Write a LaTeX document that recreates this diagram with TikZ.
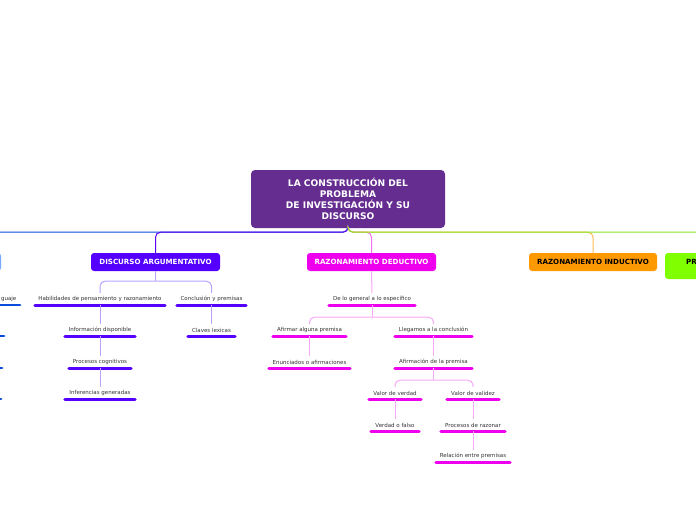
\documentclass[tikz,border=0pt]{standalone}
\usepackage{fontspec}
\setmainfont{DejaVu Sans}
\usetikzlibrary{calc}
\definecolor{rootc}{HTML}{662D91}
\definecolor{discc}{HTML}{5500FF}
\definecolor{discl}{HTML}{B9A3FF}
\definecolor{discp}{HTML}{5A00F0}
\definecolor{dedc}{HTML}{EE00EE}
\definecolor{dedl}{HTML}{F8A8F8}
\definecolor{dedt}{HTML}{F070F0}
\definecolor{indc}{HTML}{FF9900}
\definecolor{indl}{HTML}{FFBB55}
\definecolor{grnc}{HTML}{80FF00}
\definecolor{grnl}{HTML}{88E622}
\definecolor{bluc}{HTML}{0A4BDC}
\definecolor{blul}{HTML}{77AAFF}
\definecolor{txt}{HTML}{333333}
\begin{document}
\begin{tikzpicture}[x=1pt,y=-1pt,
  rootbox/.style={fill=rootc, rounded corners=4pt, text=white, font=\fontsize{9.1}{11}\selectfont\bfseries, align=center, minimum width=194, minimum height=58, inner sep=0},
  branch/.style={rounded corners=3pt, font=\fontsize{7.1}{8}\selectfont\bfseries, minimum height=18, inner sep=0},
  topic/.style={font=\fontsize{5.5}{6}\selectfont, text=txt, minimum height=12, inner sep=0},
  ul/.style={line width=2.8pt, line cap=round},
  cn/.style={line width=1pt, rounded corners=5pt}]
\useasboundingbox (0,0) rectangle (696,520);
\clip (0,0) rectangle (696,520);
\fill[white] (0,0) rectangle (696,520);

% root and branches
\node[rootbox] (root) at (348,199) {LA CONSTRUCCIÓN DEL\\PROBLEMA\\DE INVESTIGACIÓN Y SU\\DISCURSO};
\node[branch, fill=blul, minimum width=60] (leng) at (-29,262) {};
\node[branch, fill=discc, text=white, minimum width=129] (disc) at (155.5,262) {DISCURSO ARGUMENTATIVO};
\node[branch, fill=dedc, text=white, minimum width=129] (ded) at (371.5,262) {RAZONAMIENTO DEDUCTIVO};
\node[branch, fill=indc, text=black, minimum width=128] (ind) at (593,262) {RAZONAMIENTO INDUCTIVO};
\node[branch, fill=grnc, minimum width=100, minimum height=26] (grn) at (715,266) {};
\node[font=\fontsize{7.1}{8}\selectfont\bfseries, anchor=west, inner sep=0] (grntxt) at (686,262) {PR};

% top connectors
\draw[cn, bluc] (root.south) -- ++(0,4) -| (leng.north);
\draw[cn, discp] (root.south) -- ++(0,4) -| (disc.north);
\draw[cn, dedt] (root.south) -- ++(0,4) -| (ded.north);
\draw[cn, indl] (root.south) -- ++(0,4) -| (ind.north);
\draw[cn, grnl] (root.south) -- ++(0,4) -| (grn.north);

% left (blue) branch remnants
\node[topic, anchor=east] (lg) at (16.5,299) {guaje};
\draw[ul, bluc] (-30,305) -- (20,305);
\draw[ul, bluc] (-30,336) -- (4,336);
\draw[ul, bluc] (-30,368) -- (2,368);
\draw[ul, bluc] (-30,399) -- (1,399);

% discurso argumentativo
\node[topic, minimum width=130] (hab) at (100,299) {Habilidades de pensamiento y razonamiento};
\node[topic, minimum width=69] (conc) at (211.5,299) {Conclusión y premisas};
\node[topic, minimum width=70] (info) at (100,330) {Información disponible};
\node[topic, minimum width=47] (clav) at (211.5,330) {Claves lexicas};
\node[topic, minimum width=62] (proc) at (100,362) {Procesos cognitivos};
\node[topic, minimum width=70] (infe) at (100,393) {Inferencias generadas};
\foreach \n in {hab,conc,info,clav,proc,infe}
  \draw[ul, discc] (\n.south west) -- (\n.south east);
\coordinate (ds) at ($(disc.south)+(0,10)$);
\draw[cn, discl] (disc.south) -- (ds);
\draw[cn, discl] (ds) -| (hab.north);
\draw[cn, discl] (ds) -| (conc.north);
\draw[cn, discl] (hab.south) -- (info.north);
\draw[cn, discl] (info.south) -- (proc.north);
\draw[cn, discl] (proc.south) -- (infe.north);
\draw[cn, discl] (conc.south) -- (clav.north);

% razonamiento deductivo
\node[topic, minimum width=86] (gen) at (372,299) {De lo general a lo específico};
\node[topic, minimum width=73] (afir) at (309.5,330) {Afirmar alguna premisa};
\node[topic, minimum width=77] (lleg) at (433.5,330) {Llegamos a la conclusión};
\node[topic, minimum width=81] (enun) at (309.5,362) {Enunciados o afirmaciones};
\node[topic, minimum width=77] (afpr) at (433.5,362) {Afirmación de la premisa};
\node[topic, minimum width=52] (vver) at (395,393) {Valor de verdad};
\node[topic, minimum width=52] (vval) at (473,393) {Valor de validez};
\node[topic, minimum width=48] (verf) at (395,425) {Verdad o falso};
\node[topic, minimum width=64] (prar) at (473,425) {Procesos de razonar};
\node[topic, minimum width=74] (rel) at (473,456) {Relación entre premisas};
\foreach \n in {gen,afir,lleg,enun,afpr,vver,vval,verf,prar,rel}
  \draw[ul, dedc] (\n.south west) -- (\n.south east);
\draw[cn, dedl] (ded.south) -- (gen.north);
\coordinate (gs) at ($(gen.south)+(0,12)$);
\draw[cn, dedl] (gen.south) -- (gs);
\draw[cn, dedl] (gs) -| (afir.north);
\draw[cn, dedl] (gs) -| (lleg.north);
\draw[cn, dedl] (afir.south) -- (enun.north);
\draw[cn, dedl] (lleg.south) -- (afpr.north);
\coordinate (as) at ($(afpr.south)+(0,12)$);
\draw[cn, dedl] (afpr.south) -- (as);
\draw[cn, dedl] (as) -| (vver.north);
\draw[cn, dedl] (as) -| (vval.north);
\draw[cn, dedl] (vver.south) -- (verf.north);
\draw[cn, dedl] (vval.south) -- (prar.north);
\draw[cn, dedl] (prar.south) -- (rel.north);
\end{tikzpicture}
\end{document}
